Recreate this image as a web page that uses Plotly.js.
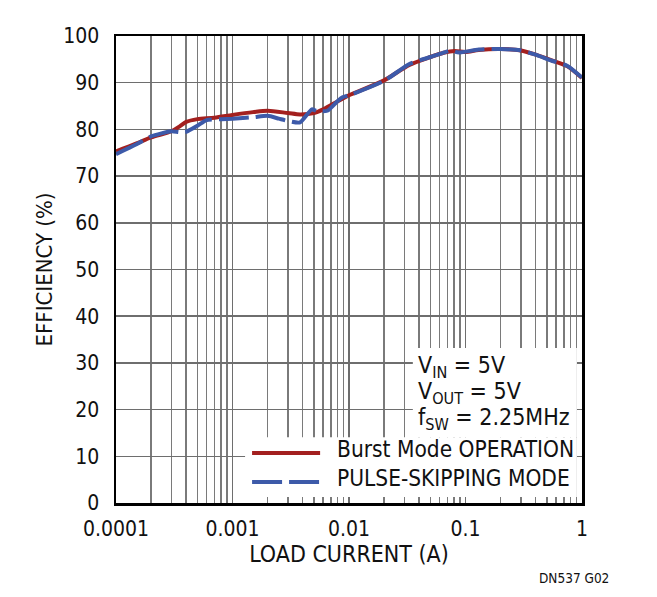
<!DOCTYPE html>
<html>
<head>
<meta charset="utf-8">
<script src="https://cdn.plot.ly/plotly-3.0.1.min.js"></script>
<style>
  html, body { margin: 0; padding: 0; background: #fff; }
  #chart { width: 657px; height: 597px; }
  #chart text { font-stretch: condensed !important; }
</style>
</head>
<body>
<div id="chart"></div>
<script>
// load current (A) and efficiency (%)
var burstCurrent = [1e-4, 1.5e-4, 2e-4, 3e-4, 3.5e-4, 4e-4, 5e-4, 7e-4, 1e-3, 1.5e-3, 2e-3, 3e-3, 3.8e-3, 5e-3, 6e-3, 8.4e-3, 0.01, 0.02, 0.033, 0.05, 0.065, 0.08, 0.1, 0.13, 0.2, 0.3, 0.4, 0.55, 0.75, 1];
var burstEff = [75.3, 77, 78.3, 79.6, 80.6, 81.6, 82.2, 82.5, 83.1, 83.7, 84.0, 83.5, 83.2, 83.5, 84.3, 86.3, 87.3, 90.5, 93.8, 95.5, 96.4, 96.8, 96.6, 97, 97.2, 96.9, 96, 94.8, 93.5, 91];

var pulseCurrent = [1e-4, 1.5e-4, 2e-4, 3e-4, 3.5e-4, 4e-4, 5e-4, 6e-4, 8e-4, 1e-3, 1.5e-3, 2e-3, 2.5e-3, 3e-3, 3.8e-3, 4.8e-3, 5.3e-3, 6.5e-3, 8e-3, 8.8e-3, 0.01, 0.02, 0.033, 0.05, 0.064, 0.075, 0.085, 0.093, 0.13, 0.2, 0.3, 0.4, 0.55, 0.75, 1];
var pulseEff = [74.7, 76.8, 78.5, 79.6, 79.4, 79.5, 80.8, 82, 82.2, 82.3, 82.6, 82.9, 82.3, 81.8, 81.5, 84.3, 83.9, 84, 86.1, 86.9, 87.3, 90.4, 94, 95.5, 96.4, 96.9, 96.5, 96.5, 97.1, 97.2, 96.9, 96, 94.7, 93.6, 91.1];

var xTickVals = [1e-4, 1e-3, 1e-2, 1e-1, 1];
var xTickText = ['0.0001', '0.001', '0.01', '0.1', '1'];

var RED = '#a3201f';
var BLUE = '#3d5aa9';
var FONT = 'DejaVu Sans Condensed, Liberation Sans Narrow, DejaVu Sans, sans-serif';

var data = [
  {
    x: burstCurrent, y: burstEff, type: 'scatter', mode: 'lines',
    name: 'Burst Mode OPERATION',
    line: { color: RED, width: 4, shape: 'spline', smoothing: 0.8 }
  },
  {
    x: pulseCurrent, y: pulseEff, type: 'scatter', mode: 'lines',
    name: 'PULSE-SKIPPING MODE',
    line: { color: BLUE, width: 4, dash: '30px,7px', shape: 'spline', smoothing: 0.6 }
  }
];

var layout = {
  width: 657, height: 597,
  margin: { l: 116, r: 75, t: 36, b: 94 },
  paper_bgcolor: '#fff', plot_bgcolor: '#fff',
  showlegend: false,
  font: { family: FONT, size: 21, color: '#111' },
  xaxis: {
    type: 'log', range: [-4, 0],
    tickmode: 'array', tickvals: xTickVals, ticktext: xTickText,
    ticks: '', ticklabelstandoff: 5,
    showgrid: true, gridcolor: '#6e6e6e', gridwidth: 1.5,
    minor: { dtick: 'D1', showgrid: true, gridcolor: '#7a7a7a', gridwidth: 1.5 },
    showline: true, mirror: true, linecolor: '#000', linewidth: 2.5,
    zeroline: false,
    title: { text: 'LOAD CURRENT (A)', font: { size: 23 }, standoff: 6 }
  },
  yaxis: {
    range: [0, 100], dtick: 10,
    ticks: '', ticklabelstandoff: 10,
    showgrid: true, gridcolor: '#6e6e6e', gridwidth: 1.5,
    showline: true, mirror: true, linecolor: '#000', linewidth: 2.5,
    zeroline: false,
    title: { text: 'EFFICIENCY (%)', font: { size: 22 }, standoff: 5 }
  },
  shapes: [
    // white panels behind the conditions text and the legend
    { type: 'rect', xref: 'paper', yref: 'paper', x0: 0.637, x1: 0.989, y0: 0.141, y1: 0.332,
      fillcolor: '#fff', line: { width: 0 }, layer: 'above' },
    { type: 'rect', xref: 'paper', yref: 'paper', x0: 0.277, x1: 0.989, y0: 0.013, y1: 0.141,
      fillcolor: '#fff', line: { width: 0 }, layer: 'above' },
    // legend samples
    { type: 'line', xref: 'paper', yref: 'paper', x0: 0.292, x1: 0.438, y0: 0.107, y1: 0.107,
      line: { color: RED, width: 4 }, layer: 'above' },
    { type: 'line', xref: 'paper', yref: 'paper', x0: 0.292, x1: 0.438, y0: 0.045, y1: 0.045,
      line: { color: BLUE, width: 4, dash: '30px,7px' }, layer: 'above' }
  ],
  annotations: [
    { xref: 'paper', yref: 'paper', x: 0.644, y: 0.291, xanchor: 'left', yanchor: 'middle',
      text: 'V<sub>IN</sub> = 5V', showarrow: false, font: { size: 23 } },
    { xref: 'paper', yref: 'paper', x: 0.644, y: 0.236, xanchor: 'left', yanchor: 'middle',
      text: 'V<sub>OUT</sub> = 5V', showarrow: false, font: { size: 23 } },
    { xref: 'paper', yref: 'paper', x: 0.644, y: 0.180, xanchor: 'left', yanchor: 'middle',
      text: 'f<sub>SW</sub> = 2.25MHz', showarrow: false, font: { size: 23 } },
    { xref: 'paper', yref: 'paper', x: 0.470, y: 0.116, xanchor: 'left', yanchor: 'middle',
      text: 'Burst Mode OPERATION', showarrow: false, font: { size: 22.5 } },
    { xref: 'paper', yref: 'paper', x: 0.470, y: 0.054, xanchor: 'left', yanchor: 'middle',
      text: 'PULSE-SKIPPING MODE', showarrow: false, font: { size: 22.5 } },
    { xref: 'paper', yref: 'paper', x: 1.062, y: -0.161, xanchor: 'right', yanchor: 'middle',
      text: 'DN537 G02', showarrow: false, font: { size: 13.5 } }
  ]
};

Plotly.newPlot('chart', data, layout, { displayModeBar: false, staticPlot: true });
</script>
</body>
</html>
